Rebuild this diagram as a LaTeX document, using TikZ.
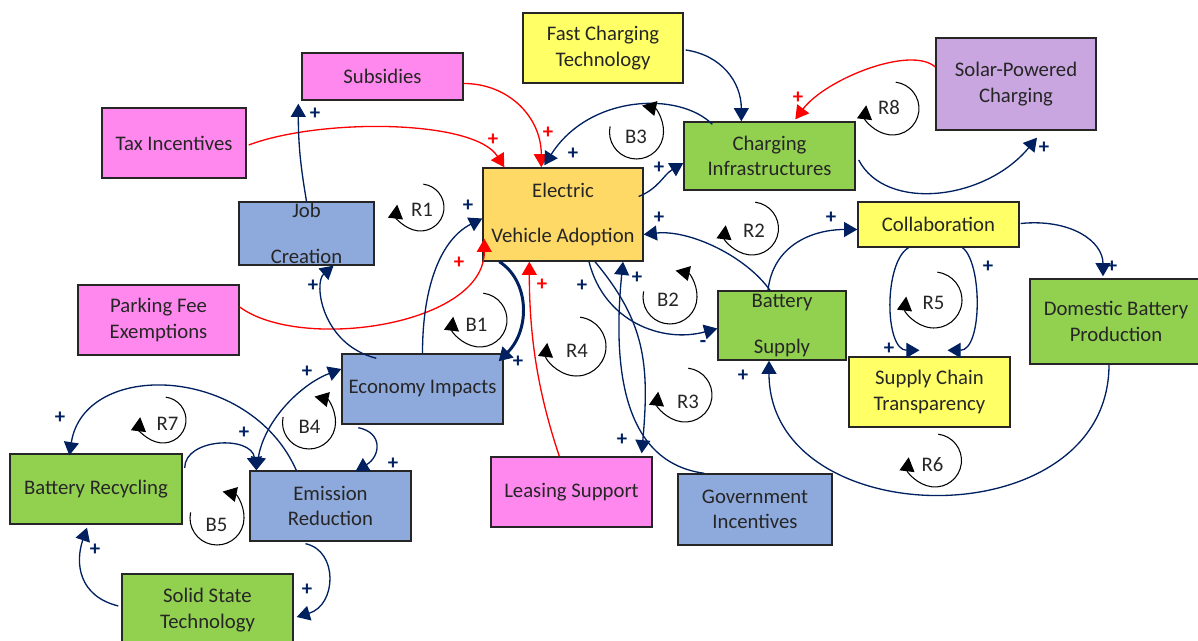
\documentclass[tikz,border=0pt]{standalone}
\usepackage{fontspec}
\setmainfont{Carlito}
\usetikzlibrary{arrows.meta,calc}

\definecolor{navy}{HTML}{002060}
\definecolor{pinkfill}{HTML}{FF88EE}
\definecolor{bluefill}{HTML}{8EA9DB}
\definecolor{greenfill}{HTML}{92D050}
\definecolor{yellowfill}{HTML}{FFFF66}
\definecolor{orangefill}{HTML}{FFD966}
\definecolor{purplefill}{HTML}{C9A6E0}
\definecolor{inkgray}{HTML}{262626}

\tikzset{
  box/.style={draw=black!85, line width=0.8pt, align=center, inner sep=0pt,
    text=inkgray, font=\fontsize{11.8}{14.6}\selectfont},
  pinkbox/.style={box, fill=pinkfill},
  bluebox/.style={box, fill=bluefill},
  greenbox/.style={box, fill=greenfill},
  yellowbox/.style={box, fill=yellowfill},
  link/.style={draw=navy, line width=0.75pt, ->},
  redlink/.style={draw=red, line width=0.75pt, ->},
  plus/.style={text=navy, inner sep=0pt, font=\bfseries\fontsize{11.8}{14}\selectfont},
  redplus/.style={plus, text=red},
  looptag/.style={text=inkgray, inner sep=0pt, font=\fontsize{11.8}{14}\selectfont},
  cwloop/.style={draw=black, line width=0.6pt, -{Triangle[length=8pt,width=8.5pt]}},
  ccwloop/.style={cwloop}
}

\begin{document}
\begin{tikzpicture}[x=0.02cm, y=-0.02cm, >={Triangle[length=7.5pt,width=8.5pt]}]
    \useasboundingbox (0,0) rectangle (1198,641);

    % Policy measures
    \node[pinkbox, minimum width=3.22cm, minimum height=0.94cm] (sub) at (382.5,76.5) {Subsidies};
    \node[pinkbox, minimum width=2.88cm, minimum height=1.4cm] (tax) at (174,143) {Tax Incentives};
    \node[pinkbox, minimum width=3.22cm, minimum height=1.4cm] (park) at (158.5,320) {Parking Fee\\Exemptions};
    \node[pinkbox, minimum width=3.22cm, minimum height=1.4cm] (lease) at (571.5,492) {Leasing Support};

    % Economy and environment
    \node[bluebox, minimum width=2.7cm, minimum height=1.26cm] (job) at (306.5,233.5) {Job\\[11.4pt]Creation};
    \node[bluebox, minimum width=3.22cm, minimum height=1.4cm] (econ) at (422.5,389) {Economy Impacts};
    \node[bluebox, minimum width=3.22cm, minimum height=1.4cm] (emis) at (330.5,506) {Emission\\Reduction};
    \node[bluebox, minimum width=3.08cm, minimum height=1.42cm] (gov) at (755,509.5) {Government\\Incentives};

    % Batteries and infrastructure
    \node[greenbox, minimum width=3.42cm, minimum height=1.36cm] (charge) at (769.5,156) {Charging\\Infrastructures};
    \node[greenbox, minimum width=2.56cm, minimum height=1.38cm] (bsup) at (782,325.5) {Battery\\[11.4pt]Supply};
    \node[greenbox, minimum width=3.44cm, minimum height=1.7cm] (dom) at (1116,321.5) {Domestic Battery\\Production};
    \node[greenbox, minimum width=3.44cm, minimum height=1.4cm] (brec) at (96,489) {Battery Recycling};
    \node[greenbox, minimum width=3.42cm, minimum height=1.44cm] (solid) at (207.5,610) {Solid State\\Technology};

    % Technology and cooperation
    \node[yellowbox, minimum width=3.2cm, minimum height=1.4cm] (fast) at (603,48) {Fast Charging\\Technology};
    \node[yellowbox, minimum width=3.22cm, minimum height=0.9cm] (collab) at (938.5,224.5) {Collaboration};
    \node[yellowbox, minimum width=3.22cm, minimum height=1.4cm] (supply) at (929.5,392) {Supply Chain\\Transparency};

    % Core variable and solar
    \node[box, fill=orangefill, minimum width=3.2cm, minimum height=1.86cm] (ev) at (563,214.5) {Electric\\[11.4pt]Vehicle Adoption};
    \node[box, fill=purplefill, minimum width=3.2cm, minimum height=1.84cm] (solar) at (1016,84) {Solar-Powered\\Charging};

    % Red policy links
    \draw[redlink] ($(sub.east)+(0,7)$) .. controls +(45,0) and +(0,-50) .. ($(ev.north west)+(59,0)$);
    \draw[redlink] ($(tax.east)+(2,2)$) .. controls +(72,-27) and +(-30,-48) .. ($(ev.north west)+(22,0)$);
    \draw[redlink] ($(park.east)+(0,-13)$) .. controls +(61,45) and +(0,87) .. ($(ev.south west)+(2,-23)$);
    \draw[redlink] ($(lease.north west)+(69,0)$) .. controls +(-20,-60) and +(0,80) .. ($(ev.south west)+(47,0)$);
    \draw[redlink] ($(solar.west)+(0,-17)$) .. controls +(-25,-22) and +(30,-40) .. ($(charge.north west)+(112,-2)$);

    % Charging links
    \draw[link] ($(fast.east)+(2,2)$) .. controls +(35,5) and +(0,-40) .. ($(charge.north west)+(58,0)$);
    \draw[link] ($(charge.north west)+(29,3)$) .. controls +(-33,-33) and +(45,-71) .. ($(ev.north west)+(62,-2)$);
    \draw[link] ($(ev.east)+(-5,-18)$) .. controls +(20,-8) and +(-20,12) .. ($(charge.west)+(0,7)$);
    \draw[link] ($(charge.east)+(3,4)$) .. controls +(27,52) and +(-52,63) .. ($(solar.south)+(21,7)$);

    % Battery supply links
    \draw[link] ($(bsup.north)+(-12,0)$) .. controls +(-25,-35) and +(45,-5) .. ($(ev.east)+(0,20)$);
    \draw[link] ($(bsup.north)+(-14,0)$) .. controls +(5,-45) and +(-45,0) .. ($(collab.west)+(0,5)$);
    \draw[link] ($(collab.east)+(1,-1)$) .. controls +(50,-5) and +(0,-35) .. ($(dom.north)+(-13,-2)$);
    \draw[link] ($(collab.south)+(-30,0)$) .. controls +(-25,15) and +(-35,0) .. ($(supply.north)+(-10,-6)$);
    \draw[link] ($(collab.south)+(24,0)$) .. controls +(20,15) and +(35,0) .. ($(supply.north)+(18,-6)$);
    \draw[link] ($(dom.south)+(-7,0)$) .. controls +(0,175) and +(0,175) .. ($(bsup.south)+(-13,0)$);
    \draw[link] ($(ev.south)+(26,0)$) .. controls +(15,60) and +(-55,15) .. ($(bsup.west)+(0,3)$);

    % Government and leasing links
    \draw[link] ($(gov.north west)+(27,0)$) .. controls +(-75,-10) and +(-12,120) .. ($(ev.south)+(60,0)$);
    \draw[link] ($(ev.south)+(32,0)$) .. controls +(50,60) and +(8,-90) .. ($(lease.north east)+(-11,-3)$);

    % Economy links
    \draw[link, line width=1.7pt] ($(ev.south west)+(17,0)$) .. controls +(30,19) and +(32,-32) .. ($(econ.north east)+(-5,8)$);
    \draw[link] (econ.north) .. controls +(0,-70) and +(-40,20) .. ($(ev.west)+(0,4)$);
    \draw[link] ($(econ.north west)+(35,5)$) .. controls +(-55,-14) and +(-20,17) .. ($(job.south)+(27,0)$);
    \draw[link] (job.north) .. controls +(-5,-30) and +(0,45) .. ($(sub.south west)+(-3,3)$);
    \draw[link, <->] ($(emis.north west)+(7,0)$) .. controls +(8,-50) and +(-40,15) .. ($(econ.west)+(0,-20)$);
    \draw[link] ($(econ.south west)+(17,3)$) .. controls +(25,5) and +(25,-15) .. ($(emis.north)+(25,1)$);

    % Recycling links
    \draw[link] ($(emis.north west)+(47,0)$) .. controls +(-47,-106) and +(15,-96) .. ($(brec.north west)+(60,2)$);
    \draw[link] ($(brec.east)+(2,-21)$) .. controls +(0,-30) and +(-5,-35) .. ($(emis.north west)+(7,0)$);
    \draw[link] ($(emis.south)+(-25,2)$) .. controls +(33,7) and +(40,-12) .. ($(solid.east)+(3,7)$);
    \draw[link] ($(solid.west)+(-3,-4)$) .. controls +(-40,-10) and +(-12,35) .. ($(brec.south)+(-9,3)$);

    % Polarity signs
    \node[redplus] (p1) at (548,133) {+};
    \node[redplus] (p2) at (493,140) {+};
    \node[redplus] (p3) at (459,263) {+};
    \node[redplus] (p4) at (542,285) {+};
    \node[redplus] (p5) at (798,98) {+};
    \node[plus] (p6) at (573,154) {+};
    \node[plus] (p7) at (659,168) {+};
    \node[plus] (p8) at (1044,148) {+};
    \node[plus] (p9) at (659,218) {+};
    \node[plus] (p10) at (831,218) {+};
    \node[plus] (p11) at (1112,267) {+};
    \node[plus] (p12) at (988,267) {+};
    \node[plus] (p13) at (889,349) {+};
    \node[plus] (p14) at (743,376) {+};
    \node[plus] (p15) at (637,278) {+};
    \node[plus] (p16) at (582,286) {+};
    \node[plus] (p17) at (622,440) {+};
    \node[plus] (p18) at (518,362) {+};
    \node[plus] (p19) at (468,206) {+};
    \node[plus] (p20) at (313,286) {+};
    \node[plus] (p21) at (315,114) {+};
    \node[plus] (p22) at (307,372) {+};
    \node[plus] (p23) at (244,433) {+};
    \node[plus] (p24) at (60,418) {+};
    \node[plus] (p25) at (393,464) {+};
    \node[plus] (p26) at (307,590) {+};
    \node[plus] (p27) at (95,550) {+};
    \node[plus] (m1) at (703,344) {-};

    % Loop markers
    \draw[cwloop] (420.5,207.5) ++(83:0.47cm) arc[start angle=83, end angle=-187, radius=0.47cm];
    \node[looptag] (lr1) at (422,210) {R1};
    \draw[cwloop] (892.5,108.5) ++(83:0.53cm) arc[start angle=83, end angle=-187, radius=0.53cm];
    \node[looptag] (lr8) at (889,108) {R8};
    \draw[cwloop] (752,228.5) ++(83:0.53cm) arc[start angle=83, end angle=-187, radius=0.53cm];
    \node[looptag] (lr2) at (754,231) {R2};
    \draw[ccwloop] (636.5,132) ++(168:0.54cm) arc[start angle=168, end angle=438, radius=0.54cm];
    \node[looptag] (lb3) at (636,137) {B3};
    \draw[ccwloop] (670,297) ++(168:0.54cm) arc[start angle=168, end angle=438, radius=0.54cm];
    \node[looptag] (lb2) at (668,300) {B2};
    \draw[cwloop] (576.5,346.5) ++(83:0.59cm) arc[start angle=83, end angle=-187, radius=0.59cm];
    \node[looptag] (lr4) at (577,351) {R4};
    \draw[cwloop] (685,395) ++(83:0.54cm) arc[start angle=83, end angle=-187, radius=0.54cm];
    \node[looptag] (lr3) at (688,402) {R3};
    \draw[cwloop] (480,320) ++(83:0.54cm) arc[start angle=83, end angle=-187, radius=0.54cm];
    \node[looptag] (lb1) at (476.5,325) {B1};
    \draw[ccwloop] (309,422.5) ++(168:0.53cm) arc[start angle=168, end angle=438, radius=0.53cm];
    \node[looptag] (lb4) at (309.5,427) {B4};
    \draw[ccwloop] (217,518) ++(168:0.54cm) arc[start angle=168, end angle=438, radius=0.54cm];
    \node[looptag] (lb5) at (216.5,525) {B5};
    \draw[cwloop] (163,420) ++(83:0.46cm) arc[start angle=83, end angle=-187, radius=0.46cm];
    \node[looptag] (lr7) at (167.5,424) {R7};
    \draw[cwloop] (934,300) ++(83:0.56cm) arc[start angle=83, end angle=-187, radius=0.56cm];
    \node[looptag] (lr5) at (933.5,303) {R5};
    \draw[cwloop] (935,460.5) ++(83:0.53cm) arc[start angle=83, end angle=-187, radius=0.53cm];
    \node[looptag] (lr6) at (932.5,465) {R6};
\end{tikzpicture}
\end{document}
